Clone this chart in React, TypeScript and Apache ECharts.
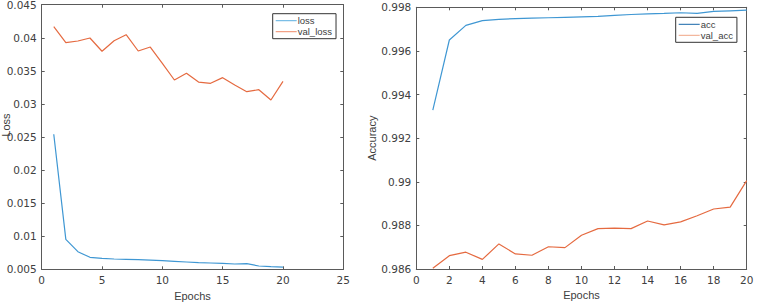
import React, { useEffect, useRef } from "react";
import * as echarts from "echarts";

const epochs = [1, 2, 3, 4, 5, 6, 7, 8, 9, 10, 11, 12, 13, 14, 15, 16, 17, 18, 19, 20];
const loss = [0.02541, 0.00953, 0.00766, 0.00681, 0.00666, 0.00656, 0.0065, 0.00645, 0.0064, 0.0063,
  0.0062, 0.0061, 0.006, 0.00595, 0.0059, 0.0058, 0.00585, 0.0055, 0.0054, 0.00534];
const valLoss = [0.04167, 0.03926, 0.03951, 0.03997, 0.03796, 0.03956, 0.04047, 0.038, 0.0386, 0.03614,
  0.03362, 0.03463, 0.03331, 0.03312, 0.03397, 0.03286, 0.03185, 0.03215, 0.0306, 0.0334];
const acc = [0.99329, 0.9965, 0.99717, 0.99739, 0.99745, 0.99748, 0.9975, 0.99752, 0.99754, 0.99756,
  0.99758, 0.99763, 0.99767, 0.9977, 0.99772, 0.99775, 0.99772, 0.99781, 0.99784, 0.99787];
const valAcc = [0.98603, 0.98661, 0.98677, 0.98644, 0.98715, 0.98669, 0.98663, 0.98702, 0.98698, 0.98755,
  0.98785, 0.98787, 0.98785, 0.9882, 0.98802, 0.98816, 0.98844, 0.98875, 0.98884, 0.99005];

const FONT = "Liberation Sans";
const TICK_FONT = "DejaVu Sans";
const AXIS_COLOR = "#5a5a5a";
const LABEL_COLOR = "#404040";
const BLUE = "#3f97d3";
const ORANGE = "#e56a40";

const fmt = (v: number) => String(parseFloat(v.toFixed(3)));

const tickLabel = { show: true, color: LABEL_COLOR, fontFamily: TICK_FONT, fontSize: 10.5, margin: 5 };
const nameStyle = { color: LABEL_COLOR, fontFamily: FONT, fontSize: 11 };

function axisBase(gridIndex: number, extra: any) {
  return {
    gridIndex,
    type: "value",
    axisLine: { show: true, onZero: false, lineStyle: { color: AXIS_COLOR, width: 1 } },
    axisTick: { show: true, inside: true, length: 3, lineStyle: { color: AXIS_COLOR } },
    splitLine: { show: false },
    axisLabel: tickLabel,
    ...extra,
  };
}

function mirror(base: any, position: string) {
  return {
    ...base,
    position,
    name: "",
    axisLabel: { show: false },
  };
}

export default function App() {
  const ref = useRef<HTMLDivElement>(null);
  useEffect(() => {
    if (!ref.current) return;
    const chart = echarts.init(ref.current, null, { renderer: "svg" });
    const pair = (xs: number[], ys: number[]) => xs.map((x, i) => [x, ys[i]]);

    const x0 = axisBase(0, { min: 0, max: 25, interval: 5, name: "Epochs", nameLocation: "middle", nameGap: 18,
      nameTextStyle: nameStyle });
    const x1 = axisBase(1, { min: 0, max: 20, interval: 2, name: "Epochs", nameLocation: "middle", nameGap: 18,
      nameTextStyle: nameStyle });
    const y0 = axisBase(0, { min: 0.005, max: 0.045, interval: 0.005,
      axisLabel: { ...tickLabel, formatter: fmt } });
    const y1 = axisBase(1, { min: 0.986, max: 0.998, interval: 0.002, name: "Accuracy", nameLocation: "middle", nameGap: 36,
      nameTextStyle: nameStyle, axisLabel: { ...tickLabel, formatter: fmt } });

    const legendCommon = {
      orient: "vertical",
      itemWidth: 21,
      itemHeight: 10,
      itemGap: 1,
      padding: [2, 4, 2, 3],
      borderColor: "#333",
      borderWidth: 1,
      backgroundColor: "#fff",
      textStyle: { color: LABEL_COLOR, fontFamily: FONT, fontSize: 9.5, padding: [0, 0, 0, -4] },
      icon: "path://M0,5 L21,5 L21,6 L0,6 Z",
    };

    chart.setOption({
      animation: false,
      backgroundColor: "#fff",
      grid: [
        { left: 41.7, top: 4.7, width: 301.6, height: 264.6, show: false, containLabel: false, outerBoundsMode: "none" },
        { left: 416.3, top: 7.3, width: 330.4, height: 261.7, show: false, containLabel: false, outerBoundsMode: "none" },
      ],
      xAxis: [x0, x1, mirror(x0, "top"), mirror(x1, "top")],
      yAxis: [y0, y1, mirror(y0, "right"), mirror(y1, "right")],
      graphic: [
        {
          type: "text",
          x: 6,
          y: 125,
          rotation: Math.PI / 2,
          style: {
            text: "Loss",
            fill: LABEL_COLOR,
            font: `11px "${FONT}"`,
            textAlign: "center",
            textVerticalAlign: "middle",
          },
        },
      ],
      legend: [
        {
          ...legendCommon,
          left: 272.7,
          top: 13.7,
          data: [
            { name: "loss", itemStyle: { color: "#5aaee0" } },
            { name: "val_loss", itemStyle: { color: "#ef8a68" } },
          ],
        },
        {
          ...legendCommon,
          left: 675.7,
          top: 17.3,
          data: [
            { name: "acc", itemStyle: { color: "#1565a8" } },
            { name: "val_acc", itemStyle: { color: "#f0a585" } },
          ],
        },
      ],
      series: [
        { name: "loss", type: "line", xAxisIndex: 0, yAxisIndex: 0, data: pair(epochs, loss), showSymbol: false, symbol: "none",
          lineStyle: { color: BLUE, width: 1.2 }, itemStyle: { color: BLUE } },
        { name: "val_loss", type: "line", xAxisIndex: 0, yAxisIndex: 0, data: pair(epochs, valLoss), showSymbol: false, symbol: "none",
          lineStyle: { color: ORANGE, width: 1.2 }, itemStyle: { color: ORANGE } },
        { name: "acc", type: "line", xAxisIndex: 1, yAxisIndex: 1, data: pair(epochs, acc), showSymbol: false, symbol: "none",
          lineStyle: { color: BLUE, width: 1.2 }, itemStyle: { color: BLUE } },
        { name: "val_acc", type: "line", xAxisIndex: 1, yAxisIndex: 1, data: pair(epochs, valAcc), showSymbol: false, symbol: "none",
          lineStyle: { color: ORANGE, width: 1.2 }, itemStyle: { color: ORANGE } },
      ],
    });
    return () => chart.dispose();
  }, []);
  return <div ref={ref} style={{ position: "absolute", left: 0, top: 0, width: 764, height: 305 }} />;
}
